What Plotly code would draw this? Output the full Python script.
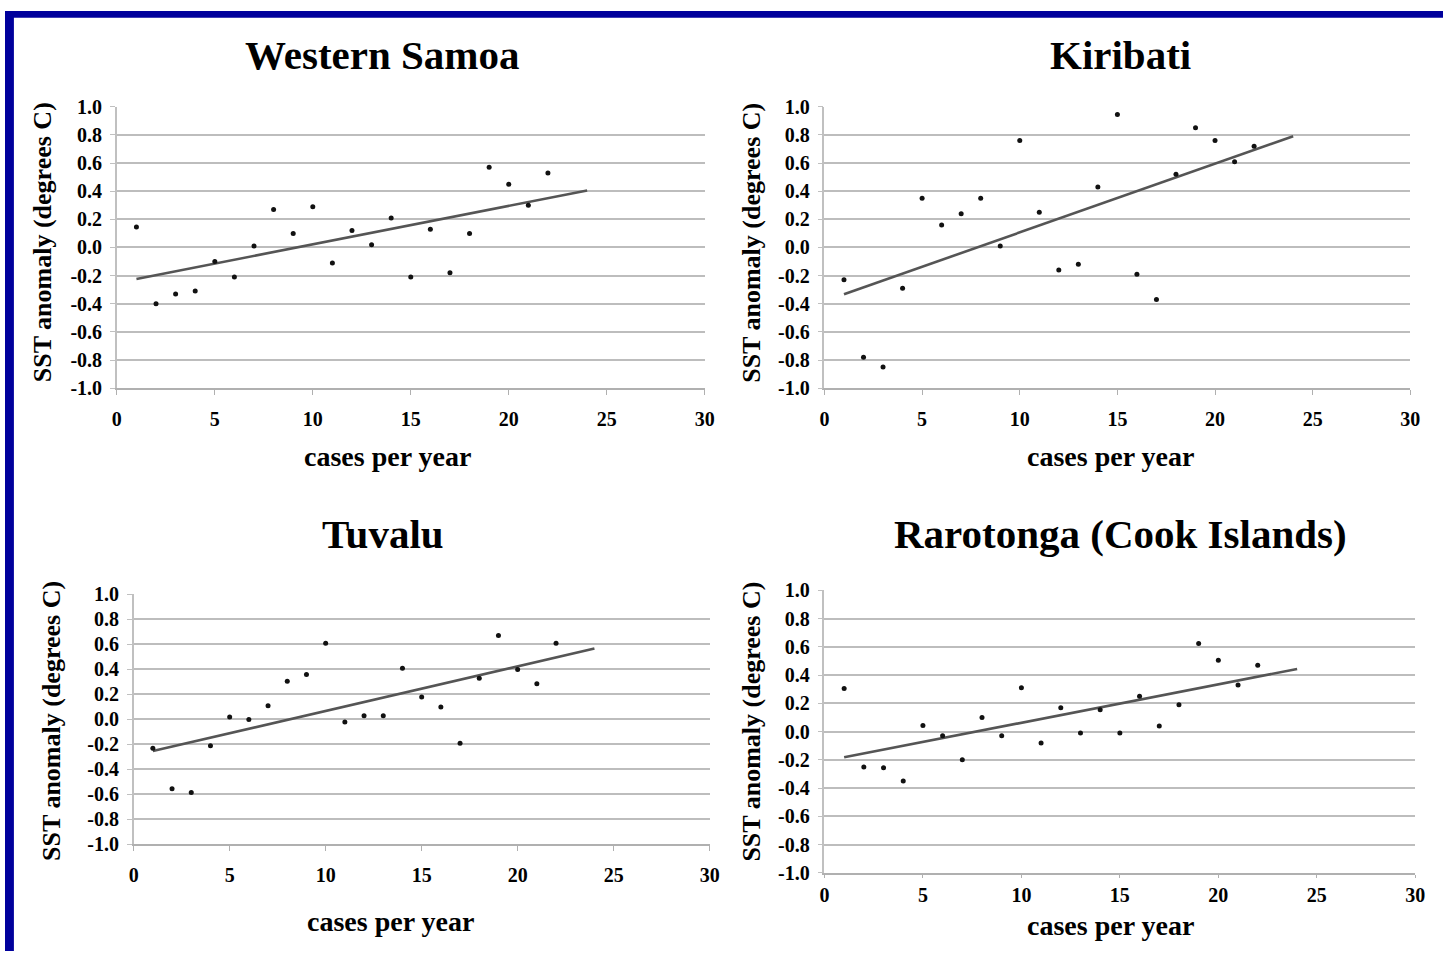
import numpy as np
import plotly.graph_objects as go

# ---------------- data ----------------
x_vals = [1, 2, 3, 4, 5, 6, 7, 8, 9, 10, 11, 12, 13, 14, 15, 16, 17, 18, 19, 20, 21, 22]

western_samoa = [0.145, -0.40, -0.33, -0.31, -0.10, -0.21, 0.01, 0.27, 0.10, 0.29, -0.11,
                 0.12, 0.02, 0.21, -0.21, 0.13, -0.18, 0.10, 0.57, 0.45, 0.30, 0.53]
kiribati = [-0.23, -0.78, -0.85, -0.29, 0.35, 0.16, 0.24, 0.35, 0.01, 0.76, 0.25,
            -0.16, -0.12, 0.43, 0.945, -0.19, -0.37, 0.52, 0.85, 0.76, 0.61, 0.72]
tuvalu = [-0.23, -0.555, -0.585, -0.21, 0.02, 0.00, 0.11, 0.305, 0.36, 0.61, -0.02,
          0.03, 0.03, 0.41, 0.18, 0.10, -0.19, 0.33, 0.67, 0.40, 0.285, 0.61]
rarotonga = [0.306, -0.25, -0.255, -0.35, 0.044, -0.03, -0.20, 0.10, -0.03, 0.31, -0.08,
             0.17, -0.01, 0.155, -0.01, 0.25, 0.04, 0.19, 0.625, 0.505, 0.33, 0.47]

panel_titles = ["Western Samoa", "Kiribati", "Tuvalu", "Rarotonga (Cook Islands)"]
series = [western_samoa, kiribati, tuvalu, rarotonga]
trend_x = [1, 24]  # linear trend drawn from first year, forecast 2 periods ahead

x_ticks = [0, 5, 10, 15, 20, 25, 30]
y_ticks = [1.0, 0.8, 0.6, 0.4, 0.2, 0.0, -0.2, -0.4, -0.6, -0.8, -1.0]
y_tick_text = ["1.0", "0.8", "0.6", "0.4", "0.2", "0.0", "-0.2", "-0.4", "-0.6", "-0.8", "-1.0"]
x_title = "cases per year"
y_title = "SST anomaly (degrees C)"

# ---------------- layout geometry (pixels) ----------------
W, H = 1453, 962
# (left, right, top, bottom) of each plot area
boxes = [(113, 707, 98, 386), (828, 1420, 98, 386), (130, 712, 597, 853), (828, 1425, 593, 882)]
x_ticklen = [5, 5, 5, 3]
x_standoff = [7, 7, 7, 0]
title_pos = [(381, 45), (1127, 45), (382, 535), (1127, 535)]
xtitle_pos = [(386, 456), (1117, 456), (390, 932), (1117, 936)]
ytitle_pos = [(38, 237), (754, 237), (47, 727), (754, 727)]

FONT = "Liberation Serif"
GRID = "#bdbdbd"
BORDER = "#00009c"

fig = go.Figure()
for i, (ys, box) in enumerate(zip(series, boxes)):
    n = i + 1
    xa = "x" if n == 1 else f"x{n}"
    ya = "y" if n == 1 else f"y{n}"
    slope, icpt = np.polyfit(x_vals, ys, 1)
    ty = np.polyval([slope, icpt], trend_x)
    fig.add_trace(go.Scatter(x=trend_x, y=ty, mode="lines",
                             line=dict(color="#555555", width=2.6),
                             xaxis=xa, yaxis=ya, showlegend=False, hoverinfo="skip"))
    fig.add_trace(go.Scatter(x=x_vals, y=ys, mode="markers",
                             marker=dict(color="#111111", size=5),
                             xaxis=xa, yaxis=ya, showlegend=False))
    l, r, t, b = box
    axkw_x = dict(domain=[l / W, r / W], range=[0, 30], tickvals=x_ticks,
                  showgrid=False, zeroline=False, showline=True, linecolor="#b0b0b0",
                  linewidth=1.5, ticks="outside", ticklen=x_ticklen[i], tickcolor="#b0b0b0",
                  tickfont=dict(family=FONT, size=20, color="black", weight="bold"),
                  ticklabelstandoff=x_standoff[i], anchor=ya)
    axkw_y = dict(domain=[1 - b / H, 1 - t / H], range=[-1.0, 1.0], tickvals=y_ticks,
                  ticktext=y_tick_text, showgrid=True, gridcolor=GRID, gridwidth=1.5,
                  zeroline=False, showline=True, linecolor="#c0c0c0", linewidth=1.5,
                  ticks="outside", ticklen=5, tickcolor="#c0c0c0",
                  tickfont=dict(family=FONT, size=20, color="black", weight="bold"),
                  ticklabelstandoff=4, anchor=xa)
    fig.layout[("xaxis" if n == 1 else f"xaxis{n}")] = axkw_x
    fig.layout[("yaxis" if n == 1 else f"yaxis{n}")] = axkw_y

annotations = []
for i in range(4):
    tx, ty_ = title_pos[i]
    annotations.append(dict(text=panel_titles[i], x=tx / W, y=1 - ty_ / H, xref="paper", yref="paper",
                            xanchor="center", yanchor="middle", showarrow=False,
                            font=dict(family=FONT, size=41, color="black", weight="bold")))
    tx, ty_ = xtitle_pos[i]
    annotations.append(dict(text=x_title, x=tx / W, y=1 - ty_ / H, xref="paper", yref="paper",
                            xanchor="center", yanchor="middle", showarrow=False,
                            font=dict(family=FONT, size=28, color="black", weight="bold")))
    tx, ty_ = ytitle_pos[i]
    annotations.append(dict(text=y_title, x=tx / W, y=1 - ty_ / H, xref="paper", yref="paper",
                            xanchor="center", yanchor="middle", showarrow=False, textangle=-90,
                            font=dict(family=FONT, size=26, color="black", weight="bold")))

shapes = [
    dict(type="rect", xref="paper", yref="paper", x0=0, x1=1, y0=1 - 7 / H, y1=1,
         fillcolor=BORDER, line=dict(width=0), layer="above"),
    dict(type="rect", xref="paper", yref="paper", x0=0, x1=9 / W, y0=0, y1=1,
         fillcolor=BORDER, line=dict(width=0), layer="above"),
]

fig.update_layout(width=W, height=H, margin=dict(l=0, r=0, t=0, b=0),
                  paper_bgcolor="white", plot_bgcolor="white",
                  annotations=annotations, shapes=shapes, showlegend=False)

fig.write_html("out.html")
